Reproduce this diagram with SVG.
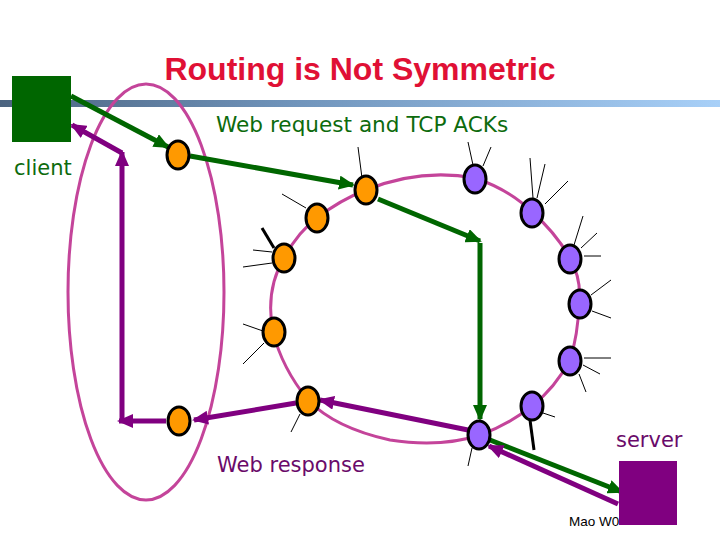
<svg xmlns="http://www.w3.org/2000/svg" width="720" height="540" viewBox="0 0 720 540">
<defs>
<linearGradient id="bar" x1="0" y1="0" x2="1" y2="0">
<stop offset="0" stop-color="#4c6480"/>
<stop offset="0.4" stop-color="#6f93ba"/>
<stop offset="1" stop-color="#a8d0f8"/>
</linearGradient>
<marker id="ag" markerUnits="userSpaceOnUse" viewBox="0 0 16 14" markerWidth="16" markerHeight="14" refX="14" refY="7" orient="auto">
<path d="M0,0 L16,7 L0,14 z" fill="#006600"/>
</marker>
<marker id="ap" markerUnits="userSpaceOnUse" viewBox="0 0 16 14" markerWidth="16" markerHeight="14" refX="14" refY="7" orient="auto">
<path d="M0,0 L16,7 L0,14 z" fill="#800080"/>
</marker>
</defs>
<style>
.o{fill:#ff9900;stroke:#000;stroke-width:3}
.p{fill:#9966ff;stroke:#000;stroke-width:3}
.s{stroke:#000;stroke-width:1}
.sk{stroke:#000;stroke-width:3}
.g{stroke:#006600;stroke-width:5;fill:none;marker-end:url(#ag)}
.pp{stroke:#800080;stroke-width:5;fill:none;marker-end:url(#ap)}
.t{font-family:"DejaVu Sans",Verdana,sans-serif;font-size:21px}
</style>
<rect width="720" height="540" fill="#fff"/>
<rect x="0" y="100" width="720" height="7" fill="url(#bar)"/>
<text x="360" y="80" text-anchor="middle" font-family="Liberation Sans, Arial, sans-serif" font-weight="bold" font-size="32" fill="#e01035">Routing is Not Symmetric</text>
<ellipse cx="146" cy="292" rx="78" ry="208" fill="none" stroke="#c4449a" stroke-width="3"/>
<path id="ring" d="M366,190 Q420,168 475,178 Q510,190 532,212 Q555,232 570,258 Q582,280 579,304 Q578,335 570,360 Q555,388 532,406 Q508,425 480,435 Q440,448 390,440 Q335,428 308,400 Q282,368 273,332 Q265,290 284,258 Q298,232 317,218 Q340,200 366,190 Z" fill="none" stroke="#c4449a" stroke-width="3"/>
<text x="569" y="526" font-family="Liberation Sans, Arial, sans-serif" font-size="13.5" fill="#000">Mao W0</text>
<g id="connectors">
<line class="g" x1="71" y1="96" x2="168" y2="147"/>
<line class="g" x1="190" y1="156" x2="353" y2="185"/>
<line class="g" x1="378" y1="199" x2="480" y2="241"/>
<line class="g" x1="480" y1="243" x2="480" y2="419"/>
<line class="g" x1="490" y1="440" x2="622" y2="492"/>
<line class="pp" x1="618" y1="504" x2="489" y2="446"/>
<line class="pp" x1="468" y1="430" x2="320" y2="400"/>
<line class="pp" x1="296" y1="403" x2="194" y2="420"/>
<line class="pp" x1="166" y1="421" x2="119" y2="421"/>
<line class="pp" x1="122" y1="421" x2="122" y2="152"/>
<line class="pp" x1="122" y1="153" x2="72" y2="125"/>
</g>
<g id="o1"><ellipse class="o" cx="178" cy="155" rx="11" ry="14"/></g>
<g id="o2"><line class="s" x1="358" y1="147" x2="362" y2="178"/><ellipse class="o" cx="366" cy="190" rx="11" ry="14"/></g>
<g id="o3"><line class="s" x1="282" y1="194" x2="306" y2="208"/><ellipse class="o" cx="317" cy="218" rx="11" ry="14"/></g>
<g id="o4"><line class="sk" x1="262" y1="228" x2="274" y2="248"/><line class="s" x1="253" y1="250" x2="272" y2="252"/><line class="s" x1="243" y1="267" x2="272" y2="263"/><ellipse class="o" cx="284" cy="258" rx="11" ry="14"/></g>
<g id="o5"><line class="s" x1="243" y1="324" x2="263" y2="331"/><line class="s" x1="243" y1="364" x2="264" y2="343"/><ellipse class="o" cx="274" cy="332" rx="11" ry="14"/></g>
<g id="o6"><line class="s" x1="291" y1="432" x2="300" y2="414"/><ellipse class="o" cx="308" cy="401" rx="11" ry="14"/></g>
<g id="o7"><ellipse class="o" cx="179" cy="421" rx="11" ry="14"/></g>
<g id="p1"><line class="s" x1="468" y1="142" x2="473" y2="165"/><line class="s" x1="491" y1="147" x2="483" y2="166"/><ellipse class="p" cx="475" cy="179" rx="11" ry="14"/></g>
<g id="p2"><line class="s" x1="530" y1="158" x2="533" y2="198"/><line class="s" x1="545" y1="164" x2="537" y2="198"/><line class="s" x1="568" y1="181" x2="545" y2="204"/><ellipse class="p" cx="532" cy="213" rx="11" ry="14"/></g>
<g id="p3"><line class="s" x1="583" y1="216" x2="574" y2="245"/><line class="s" x1="597" y1="233" x2="581" y2="248"/><line class="s" x1="601" y1="256" x2="584" y2="256"/><ellipse class="p" cx="570" cy="259" rx="11" ry="14"/></g>
<g id="p4"><line class="s" x1="611" y1="280" x2="591" y2="295"/><line class="s" x1="611" y1="318" x2="592" y2="311"/><ellipse class="p" cx="580" cy="304" rx="11" ry="14"/></g>
<g id="p5"><line class="s" x1="611" y1="358" x2="584" y2="358"/><line class="s" x1="600" y1="374" x2="583" y2="365"/><line class="s" x1="586" y1="392" x2="579" y2="374"/><ellipse class="p" cx="570" cy="361" rx="11" ry="14"/></g>
<g id="p6"><line class="sk" x1="530" y1="420" x2="534" y2="450"/><line class="s" x1="543" y1="413" x2="555" y2="417"/><ellipse class="p" cx="532" cy="406" rx="11" ry="14"/></g>
<g id="p7"><line class="s" x1="468" y1="466" x2="472" y2="448"/><ellipse class="p" cx="479" cy="435" rx="11" ry="14"/></g>
<g id="client"><rect x="12" y="76" width="59" height="66" fill="#006600"/><text class="t" x="14" y="175" font-size="20" fill="#0d6b0d">client</text></g>
<g id="server"><rect x="619" y="461" width="58" height="64" fill="#800080"/><text class="t" x="616" y="447" fill="#6a0a6a">server</text></g>
<text class="t" x="216" y="132" fill="#0d6b0d" style="font-size:21.6px">Web request and TCP ACKs</text>
<text class="t" x="217" y="472" fill="#6a0a6a">Web response</text>
</svg>
